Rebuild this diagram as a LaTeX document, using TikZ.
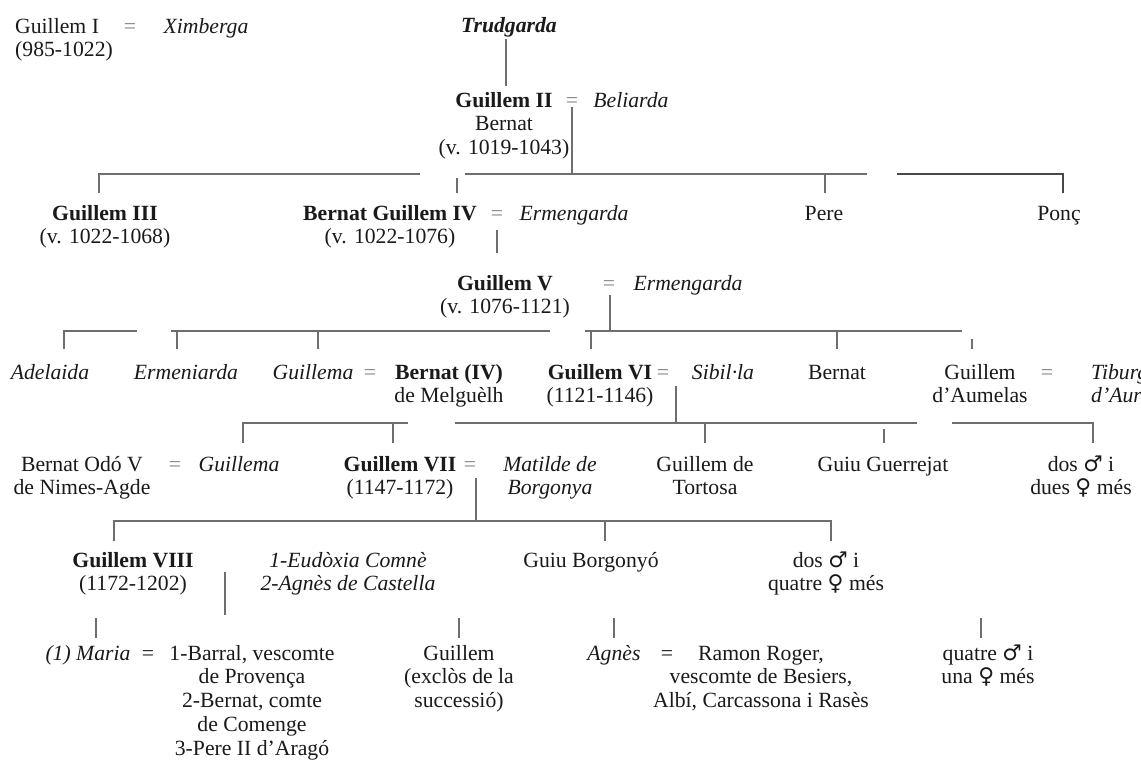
\documentclass[tikz,border=0pt]{standalone}
\usepackage{fontspec}
\setmainfont{Liberation Serif}
\newfontfamily\symfont{DejaVu Sans}
\newcommand\lblfont{\fontsize{21.7}{23.8}\selectfont}
\newcommand\male{{\symfont\bfseries ♂}}
\newcommand\female{{\symfont\bfseries ♀}}
\definecolor{ink}{HTML}{1A1A1A}
\definecolor{linegray}{HTML}{6E6E6E}
\definecolor{eqgray}{HTML}{858585}
\begin{document}
% Multi-line labels sit on the baseline of their last line.
\begin{tikzpicture}[x=1pt,y=-1pt,
  lbl/.style={inner sep=0pt, anchor=base, align=center, text=ink, font=\lblfont},
  it/.style={lbl, font=\lblfont\itshape},
  bi/.style={lbl, font=\lblfont\bfseries\itshape},
  eqs/.style={lbl, text=eqgray},
  eqd/.style={lbl},
  tie/.style={draw=linegray, line width=1.1pt},
  tiedark/.style={draw=ink!80, line width=1.5pt},
]
\useasboundingbox (0,0) rectangle (1141,761);
\clip (0,0) rectangle (1141,761);
\fill[white] (0,0) rectangle (1141,761);

% ---- generation 0
\node[lbl, anchor=base west, align=left] (g1) at (15,56.8) {Guillem I\\(985-1022)};
\node[eqs] (e0) at (130,33) {=};
\node[it] (xim) at (206,33) {Ximberga};
\node[bi] (trud) at (509,32) {Trudgarda};
\node[lbl] (g2) at (504,154.6) {\textbf{Guillem II}\\Bernat\\(v. 1019-1043)};
\node[eqs] (e1) at (572,107) {=};
\node[it] (bel) at (631,107) {Beliarda};
\coordinate (t0) at (506,39);
\coordinate (t1) at (506,86);
\draw[tie] (t0) -- (t1);

% ---- generation 1
\coordinate (b1a) at (99,174);  \coordinate (b1b) at (420,174);
\coordinate (b1c) at (465,174); \coordinate (b1d) at (867,174);
\coordinate (b1e) at (897,174); \coordinate (b1f) at (1063,174);
\draw[tie] (e1.south) -- (e1.south |- b1c);
\draw[tie] (b1a) ++(0,19) -- (b1a) -- (b1b);
\draw[tie] (b1c) -- (b1d);
\draw[tie] (457,178) -- (457,193);
\draw[tie] (825,174) -- (825,193);
\draw[tiedark] (b1e) -- (b1f) -- ++(0,19);

\node[lbl] (g3) at (105,243.8) {\textbf{Guillem III}\\(v. 1022-1068)};
\node[lbl] (bg4) at (390,243.8) {\textbf{Bernat Guillem IV}\\(v. 1022-1076)};
\node[eqs] (e2) at (497,220) {=};
\node[it] (erm1) at (574,220) {Ermengarda};
\node[lbl] (pere) at (824,220) {Pere};
\node[lbl] (ponc) at (1059,220) {Ponç};
\coordinate (v2a) at (497,230);
\coordinate (v2b) at (497,253);
\draw[tie] (v2a) -- (v2b);

% ---- generation 2
\node[lbl] (g5) at (505,313.8) {\textbf{Guillem V}\\(v. 1076-1121)};
\node[eqs] (e3) at (609,290) {=};
\node[it] (erm2) at (688,290) {Ermengarda};

\coordinate (b3a) at (64,331);  \coordinate (b3b) at (137,331);
\coordinate (b3c) at (171,331); \coordinate (b3d) at (550,331);
\coordinate (b3e) at (585,331); \coordinate (b3f) at (962,331);
\draw[tie] (610,295) -- (610,331);
\draw[tie] (b3a) ++(0,18) -- (b3a) -- (b3b);
\draw[tie] (b3c) -- (b3d);
\draw[tie] (177,331) -- (177,349);
\draw[tie] (318,331) -- (318,349);
\draw[tie] (b3e) -- (b3f);
\draw[tie] (591,331) -- (591,349);
\draw[tie] (837,331) -- (837,349);
\draw[tie] (972,339) -- (972,349);

% ---- generation 3
\node[it] (adel) at (50,379) {Adelaida};
\node[it] (erme) at (186,379) {Ermeniarda};
\node[it] (guil1) at (313,379) {Guillema};
\node[eqs] (e4) at (370,379) {=};
\node[lbl] (bern4) at (449,402.8) {\textbf{Bernat (IV)}\\de Melguèlh};
\node[lbl] (g6) at (600,402.8) {\textbf{Guillem VI}\\(1121-1146)};
\node[eqs] (e5) at (663,379) {=};
\node[it] (sib) at (723,379) {Sibil·la};
\node[lbl] (bern5) at (837,379) {Bernat};
\node[lbl] (gaum) at (980,402.8) {Guillem\\d’Aumelas};
\node[eqs] (e6) at (1047,379) {=};
\node[it, anchor=base west, align=left] (tib) at (1091,402.8) {Tiburga\\d’Aurenja};

\coordinate (b4a) at (243,423); \coordinate (b4b) at (408,423);
\coordinate (b4c) at (455,423); \coordinate (b4d) at (917,423);
\coordinate (b4e) at (952,423); \coordinate (b4f) at (1093,423);
\draw[tie] (676,386) -- (676,423);
\draw[tie] (b4a) ++(0,20) -- (b4a) -- (b4b);
\draw[tie] (393,423) -- (393,443);
\draw[tie] (b4c) -- (b4d);
\draw[tie] (705,423) -- (705,443);
\draw[tie] (884,429) -- (884,443);
\draw[tie] (b4e) -- (b4f) -- ++(0,20);

% ---- generation 4
\node[lbl] (bod) at (82,494.8) {Bernat Odó V\\de Nimes-Agde};
\node[eqs] (e7) at (175,471) {=};
\node[it] (guil2) at (239,471) {Guillema};
\node[lbl] (g7) at (400,494.8) {\textbf{Guillem VII}\\(1147-1172)};
\node[eqs] (e8) at (470,471) {=};
\node[it] (mat) at (550,494.8) {Matilde de\\Borgonya};
\node[lbl] (gtort) at (705,494.8) {Guillem de\\Tortosa};
\node[lbl] (guiu) at (883,471) {Guiu Guerrejat};
\node[lbl] (dos1) at (1081,494.8) {dos \male{} i\\dues \female{} més};

\coordinate (b5a) at (114,521); \coordinate (b5b) at (831,521);
\draw[tie] (476,478) -- (476,521);
\draw[tie] (b5a) ++(0,20) -- (b5a) -- (b5b) -- ++(0,20);
\draw[tie] (605,521) -- (605,541);

% ---- generation 5
\node[lbl] (g8) at (133,590.8) {\textbf{Guillem VIII}\\(1172-1202)};
\node[it] (wives) at (348,590.8) {1-Eudòxia Comnè\\2-Agnès de Castella};
\node[lbl] (gbor) at (591,567) {Guiu Borgonyó};
\node[lbl] (dos2) at (826,590.8) {dos \male{} i\\quatre \female{} més};
\draw[tie] (225,572) -- (225,615);

\draw[tie] (96,618) -- (96,638);
\draw[tie] (459,618) -- (459,638);
\draw[tie] (614,618) -- (614,638);
\draw[tie] (981,618) -- (981,638);

% ---- generation 6
\node[it] (maria) at (88,660) {(1) Maria};
\node[eqd] (e9) at (148,660) {=};
\node[lbl] (barral) at (252,755.2) {1-Barral, vescomte\\de Provença\\2-Bernat, comte\\de Comenge\\3-Pere II d’Aragó};
\node[lbl] (gexc) at (459,707.6) {Guillem\\(exclòs de la\\successió)};
\node[it] (agnes) at (614,660) {Agnès};
\node[eqd] (e10) at (667,660) {=};
\node[lbl] (ramon) at (761,707.6) {Ramon Roger,\\vescomte de Besiers,\\Albí, Carcassona i Rasès};
\node[lbl] (q4) at (988,683.8) {quatre \male{} i\\una \female{} més};
\end{tikzpicture}
\end{document}
